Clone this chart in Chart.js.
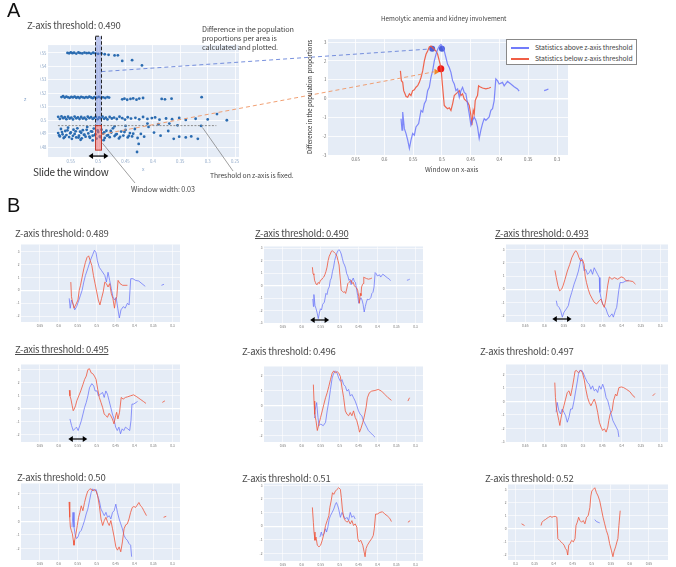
<!DOCTYPE html>
<html><head><meta charset="utf-8">
<script src="https://cdn.jsdelivr.net/npm/chart.js@4.4.1/dist/chart.umd.min.js"></script>
<style>
html,body{margin:0;padding:0;background:#fff;}
body{position:relative;width:676px;height:567px;overflow:hidden;font-family:"Noto Sans CJK JP","Noto Sans",sans-serif;}
.t{position:absolute;white-space:nowrap;line-height:1;color:#333;font-family:"Noto Sans CJK JP","Noto Sans",sans-serif;z-index:7;}
.ttl{font-size:9.5px;letter-spacing:-0.25px;color:#4a4a4a;}
.u{text-decoration:underline;text-underline-offset:1px;}
canvas{position:absolute;}
#ov{left:0;top:0;z-index:5;pointer-events:none;}
.lg{position:absolute;left:506px;top:39px;width:129px;height:24px;border:1px solid #888;background:#fff;z-index:6;}
.lgl{position:absolute;left:4px;width:18px;height:1.5px;}
</style></head><body>

<div class="t" style="left:7px;top:0px;font-size:20px;color:#111;font-family:'Liberation Sans',sans-serif">A</div>
<div class="t" style="left:7px;top:195px;font-size:20px;color:#111;font-family:'Liberation Sans',sans-serif">B</div>

<div class="t ttl" style="left:27px;top:21px">Z-axis threshold: 0.490</div>
<div class="t" style="left:202px;top:25px;font-size:7.3px;letter-spacing:-0.1px;line-height:9px;color:#444">Difference in the population<br>proportions per area is<br>calculated and plotted.</div>
<div class="t" style="left:33px;top:167px;font-size:10px;letter-spacing:-0.3px;color:#333">Slide the window</div>
<div class="t" style="left:131px;top:186px;font-size:7.2px;letter-spacing:-0.1px;color:#444">Window width: 0.03</div>
<div class="t" style="left:210px;top:172px;font-size:6.8px;letter-spacing:-0.1px;color:#444">Threshold on z-axis is fixed.</div>
<div class="t" style="left:24px;top:96px;font-size:5px;color:#7f9fc8">z</div>
<div class="t" style="left:142px;top:166px;font-size:5px;color:#7f9fc8">x</div>

<div class="t" style="left:381px;top:16px;font-size:6.3px;color:#444">Hemolytic anemia and kidney involvement</div>
<div class="t" style="left:425px;top:166px;font-size:6.6px;color:#444">Window on x-axis</div>
<div class="t" style="left:240px;top:94px;width:140px;text-align:center;font-size:6px;color:#222;transform:rotate(-90deg);transform-origin:70px 3px">Difference in the population&nbsp; proportions</div>

<div class="lg">
  <div class="lgl" style="top:7px;background:rgba(99,110,250,0.9)"></div>
  <div class="t" style="left:28px;top:4px;font-size:6.8px;letter-spacing:-0.1px;color:#444">Statistics above z-axis threshold</div>
  <div class="lgl" style="top:18px;background:rgba(239,85,59,0.95)"></div>
  <div class="t" style="left:28px;top:15px;font-size:6.8px;letter-spacing:-0.1px;color:#444">Statistics below z-axis threshold</div>
</div>

<div class="t ttl" style="left:15px;top:229px">Z-axis threshold: 0.489</div>
<div class="t ttl u" style="left:255px;top:229px">Z-axis threshold: 0.490</div>
<div class="t ttl u" style="left:495px;top:229px">Z-axis threshold: 0.493</div>
<div class="t ttl u" style="left:15px;top:345px">Z-axis threshold: 0.495</div>
<div class="t ttl" style="left:242px;top:347px">Z-axis threshold: 0.496</div>
<div class="t ttl" style="left:480px;top:347px">Z-axis threshold: 0.497</div>
<div class="t ttl" style="left:17px;top:473px">Z-axis threshold: 0.50</div>
<div class="t ttl" style="left:242px;top:474px">Z-axis threshold: 0.51</div>
<div class="t ttl" style="left:485px;top:474px">Z-axis threshold: 0.52</div>

<canvas id="ov" width="676" height="567" style="width:676px;height:567px"></canvas>

<script>
// ---------------- DATA ----------------
// Panel A scatter (x, z)
const scatterX = [
0.556,0.553,0.550,0.547,0.544,0.540,0.536,0.533,0.529,0.525,0.521,0.517,0.513,0.509,0.505,0.500,0.494,0.488,0.481,0.470,0.464,0.456,0.438,0.420,
0.567,0.564,0.561,0.558,0.555,0.552,0.549,0.546,0.543,0.540,0.537,0.534,0.531,0.528,0.525,0.522,0.519,0.516,0.513,0.510,0.507,0.503,0.499,0.495,0.491,0.487,0.483,0.480,0.456,0.452,0.447,0.441,0.436,0.430,0.425,0.418,0.384,0.378,0.366,0.311,
0.573,0.570,0.567,0.564,0.561,0.558,0.555,0.552,0.549,0.546,0.543,0.540,0.537,0.534,0.531,0.528,0.525,0.522,0.519,0.516,0.513,0.510,0.507,0.504,0.501,0.498,0.495,0.492,0.489,0.486,0.483,0.479,0.475,0.471,0.466,0.461,0.456,0.451,0.446,0.440,0.432,0.425,0.418,0.410,0.402,0.396,0.388,0.376,0.365,0.352,0.340,0.322,0.300,0.283,0.265,
0.573,0.570,0.568,0.565,0.563,0.560,0.558,0.555,0.553,0.550,0.548,0.545,0.543,0.540,0.538,0.535,0.533,0.530,0.528,0.525,0.523,0.520,0.518,0.515,0.513,0.510,0.508,0.505,0.503,0.500,0.497,0.494,0.491,0.488,0.485,0.482,0.479,0.476,0.473,0.470,0.466,0.462,0.458,0.454,0.450,0.446,0.442,0.438,0.433,0.428,0.422,0.416,0.408,0.398,0.386,0.372,0.362,0.352,0.340,0.330,0.318,
0.532,0.510,0.490,0.426,0.429,0.470,0.450,0.410,0.390,0.370,0.355,0.312,
0.571,0.566,0.561,0.556,0.551,0.546,0.541,0.536,0.531,0.526,0.521,0.516,0.511,0.506,0.501,0.496,0.489,0.484,0.477,0.468,0.460,0.452,0.444,0.436];
const scatterZ = [
0.5500,0.5497,0.5504,0.5498,0.5501,0.5495,0.5503,0.5499,0.5496,0.5502,0.5498,0.5500,0.5494,0.5501,0.5497,0.5493,0.5496,0.5490,0.5486,0.5481,0.5482,0.5440,0.5446,0.5407,
0.5172,0.5178,0.5168,0.5175,0.5170,0.5166,0.5173,0.5169,0.5176,0.5167,0.5171,0.5165,0.5174,0.5170,0.5166,0.5172,0.5168,0.5175,0.5169,0.5164,0.5171,0.5167,0.5173,0.5166,0.5170,0.5165,0.5172,0.5168,0.5155,0.5160,0.5152,0.5158,0.5162,0.5153,0.5161,0.5165,0.5158,0.5155,0.5160,0.5171,
0.5025,0.5010,0.5028,0.5015,0.5022,0.5008,0.5026,0.5013,0.5020,0.5006,0.5027,0.5014,0.5021,0.5009,0.5024,0.5012,0.5019,0.5007,0.5026,0.5016,0.5023,0.5010,0.5018,0.5025,0.5008,0.5021,0.5014,0.5027,0.5011,0.5019,0.5006,0.5024,0.5013,0.5020,0.5009,0.5026,0.5015,0.5005,0.5022,0.5012,0.5018,0.5007,0.5024,0.5010,0.5016,0.5021,0.5004,0.5013,0.5008,0.5017,0.5002,0.5011,0.5006,0.5046,0.5000,
0.4905,0.4880,0.4935,0.4895,0.4868,0.4920,0.4890,0.4945,0.4875,0.4910,0.4862,0.4930,0.4898,0.4872,0.4940,0.4885,0.4915,0.4866,0.4926,0.4893,0.4878,0.4950,0.4902,0.4870,0.4918,0.4885,0.4938,0.4896,0.4864,0.4912,0.4880,0.4930,0.4900,0.4868,0.4922,0.4890,0.4874,0.4908,0.4940,0.4882,0.4897,0.4865,0.4916,0.4886,0.4928,0.4872,0.4905,0.4880,0.4935,0.4868,0.4898,0.4878,0.4950,0.4908,0.4885,0.4920,0.4862,0.4878,0.4872,0.4880,0.4862,
0.4855,0.4850,0.4852,0.4824,0.4764,0.4955,0.4958,0.4975,0.4970,0.4975,0.4962,0.4958,
0.4888,0.4912,0.4876,0.4925,0.4903,0.4884,0.4918,0.4871,0.4907,0.4892,0.4929,0.4879,0.4915,0.4890,0.4924,0.4874,0.4910,0.4886,0.4920,0.4893,0.4877,0.4912,0.4884,0.4900];

// Tick labels
const scatterXTicks = [0.55,0.5,0.45,0.4,0.35,0.3,0.25];
const scatterZTicks = [0.48,0.49,0.5,0.51,0.52,0.53,0.54,0.55];
const windowXTicks = [0.65,0.6,0.55,0.5,0.45,0.4,0.35,0.3];
const diffTicks = [-3,-2,-1,0,1,2,3];

// Series: [window centre on x-axis, difference in population proportions]; null = gap
const above490 = [[0.5711,-1.07],[0.5694,-1.68],[0.5682,-0.72],[0.5653,-1.6],[0.5624,-1.86],[0.5595,-2.21],[0.5566,-2.65],[0.5538,-2.21],[0.5509,-1.86],[0.548,-1.95],[0.5451,-1.51],[0.5405,-1.33],[0.5364,-0.63],[0.5335,-0.72],[0.5306,-0.28],[0.5277,-0.11],[0.5249,0.42],[0.522,0.6],[0.5191,1.12],[0.5162,1.47],[0.5133,2.0],[0.5104,2.35],[0.5075,2.61],[0.5046,2.79],[0.5017,2.88],[0.4988,2.74],[0.496,2.53],[0.4931,2.18],[0.4902,1.82],[0.4873,1.65],[0.4844,1.39],[0.4815,0.95],[0.4786,0.77],[0.4757,0.42],[0.4728,0.51],[0.4699,0.07],[0.467,0.42],[0.4642,0.6],[0.4613,0.33],[0.4584,0.25],[0.4555,-0.28],[0.4526,-0.81],[0.4497,-1.42],[0.4468,-1.16],[0.4439,-0.98],[0.441,-1.16],[0.4382,-1.51],[0.4353,-2.12],[0.4324,-1.68],[0.4295,-1.33],[0.4266,-1.07],[0.4237,-1.16],[0.4179,-0.98],[0.415,-0.63],[0.4121,-0.54],[0.4093,-0.11],[0.4064,1.04],[0.4035,0.95],[0.4006,0.77],[0.3948,0.86],[0.3919,0.68],[0.3861,0.91],[0.3803,0.77],[0.3746,0.63],[0.3688,0.51],[0.3659,0.39],[0.344,null],[0.3225,0.42],[0.3185,0.46],[0.315,0.51]];
const below490 = [[0.5722,1.47],[0.5705,0.95],[0.5682,0.86],[0.5665,0.42],[0.5642,0.25],[0.5624,0.11],[0.5595,0.07],[0.5566,0.25],[0.5538,0.16],[0.5509,0.42],[0.548,0.46],[0.5451,0.6],[0.5422,0.68],[0.5393,0.86],[0.5364,1.12],[0.5335,1.47],[0.5306,2.0],[0.5277,2.35],[0.5249,2.53],[0.522,2.74],[0.5191,2.79],[0.5162,2.7],[0.5133,2.61],[0.5104,2.53],[0.5075,2.35],[0.5046,2.0],[0.5017,1.65],[0.4988,0.6],[0.496,-0.37],[0.4931,-0.46],[0.4902,-0.54],[0.4873,-0.49],[0.4844,-0.63],[0.4815,-0.28],[0.4786,0.16],[0.4757,0.25],[0.4728,0.33],[0.4699,0.42],[0.467,0.16],[0.4642,0.25],[0.4613,-0.02],[0.4584,-0.11],[0.4555,-0.19],[0.4526,-0.37],[0.4497,-0.89],[0.448,-1.42],[0.4457,-0.63],[0.4439,-0.81],[0.4422,-0.11],[0.4399,0.07],[0.4382,0.16],[0.4364,0.68],[0.4341,0.63],[0.4295,0.56],[0.4237,0.51],[0.4179,0.56],[0.415,0.6]];
const markAbove490 = [[0.517,2.65],[0.5,2.65]];
const markBelow490 = [[0.502,1.58]];
const markWindow490 = [[0.51,1.42]];

const above489 = [[0.5727,-0.63],[0.570,-1.4],[0.5667,-0.76],[0.5616,-1.14],[0.5581,-1.52],[0.553,-1.27],[0.547,-0.76],[0.5428,-0.38],[0.5385,0],[0.5342,0.63],[0.5299,1.14],[0.5239,1.65],[0.5171,2.28],[0.5103,2.78],[0.506,3.09],[0.5017,2.9],[0.4983,2.28],[0.4932,1.77],[0.4872,1.52],[0.4786,1.14],[0.4744,0.63],[0.4701,1.39],[0.4658,0.76],[0.4615,0.13],[0.4573,-0.5],[0.453,-0.76],[0.4487,-0.56],[0.4444,-1.39],[0.4402,-2.15],[0.4359,-1.52],[0.4299,-1.27],[0.4248,-1.39],[0.4188,-1.0],[0.4145,-1.14],[0.4102,0.89],[0.4042,0.89],[0.3974,0.76],[0.3889,0.71],[0.3803,0.5],[0.3718,0.3],[0.35,null],[0.329,0.38],[0.3222,0.46]];
const below489 = [[0.5684,0.63],[0.5667,-0.5],[0.5641,-0.89],[0.5599,-1.39],[0.5556,-1.14],[0.5496,-0.76],[0.5462,0],[0.5428,0.38],[0.5385,1.01],[0.5342,1.65],[0.5299,2.15],[0.5257,2.53],[0.5214,2.66],[0.5171,2.28],[0.5128,1.9],[0.5086,1.14],[0.5043,0.51],[0.5,-0.13],[0.4957,-0.76],[0.4915,-1.14],[0.4872,-0.63],[0.4829,-0.13],[0.4786,0.63],[0.4744,0.51],[0.4701,0.25],[0.4658,0.51],[0.4615,-0.25],[0.4573,-0.63],[0.453,-1.39],[0.4504,-0.76],[0.447,-0.5],[0.4436,0.76],[0.4384,0.51],[0.4316,0.38],[0.4188,0.38]];

const above493 = [[0.5696,-0.88],[0.567,-1.25],[0.5626,-1.38],[0.5583,-1.63],[0.5539,-2.13],[0.5496,-1.75],[0.5435,-1.5],[0.5383,-1.25],[0.5348,-0.75],[0.5296,-0.25],[0.5235,0.38],[0.5174,0.88],[0.5122,1.38],[0.5087,1.88],[0.5052,2.38],[0.5017,2.13],[0.4974,1.38],[0.493,1.5],[0.4887,1.13],[0.4843,1.25],[0.48,1.5],[0.4756,1.13],[0.4713,1.63],[0.4669,1.38],[0.4626,1.13],[0.4582,0.88],[0.4565,-0.25],[0.4539,-0.63],[0.4495,-1.13],[0.4408,-1.5],[0.4365,-1.88],[0.4321,-2.13],[0.4252,-1.88],[0.4217,-2.13],[0.4165,-1.63],[0.413,-1.38],[0.4078,-0.13],[0.4043,0.5],[0.3973,0.5],[0.3886,0.63],[0.3817,0.68]];
const below493 = [[0.5731,1.43],[0.5696,0.88],[0.5653,0.25],[0.5609,-0.13],[0.5557,0],[0.5522,0.25],[0.547,0.75],[0.5409,1.38],[0.5348,1.88],[0.5296,2.38],[0.5235,2.75],[0.5191,2.93],[0.5148,2.75],[0.5104,2.38],[0.5061,2.13],[0.5017,2.25],[0.4974,1.88],[0.4948,1.0],[0.4913,0.5],[0.4869,0],[0.4826,-0.38],[0.4774,-0.68],[0.4713,-1.0],[0.4652,-1.13],[0.4582,-0.88],[0.4539,-0.75],[0.4495,-1.13],[0.4452,-1.38],[0.4408,-0.75],[0.4365,0.25],[0.4321,0.93],[0.4252,0.75],[0.4191,0.88],[0.4104,0.75],[0.4017,0.93],[0.3956,0.88],[0.3886,0.63],[0.3799,0.63],[0.3712,0.58],[0.3643,0.38]];

const above495 = [[0.5707,-0.81],[0.5664,-1.32],[0.5621,-1.7],[0.5578,-1.57],[0.5534,-1.44],[0.5491,-1.7],[0.5448,-1.32],[0.5405,-0.94],[0.5362,-0.43],[0.5319,0.08],[0.5276,0.46],[0.5233,0.96],[0.519,1.59],[0.5129,1.9],[0.5078,1.72],[0.5043,1.34],[0.4991,1.34],[0.4957,0.96],[0.4905,1.09],[0.4845,1.22],[0.4802,0.84],[0.4759,1.34],[0.4716,1.09],[0.4672,0.58],[0.4629,0.08],[0.4586,-0.43],[0.4543,-0.81],[0.45,-1.44],[0.4457,-1.7],[0.4414,-1.44],[0.4371,-1.95],[0.4328,-1.57],[0.4285,-1.7],[0.4241,-1.44],[0.4181,-1.57],[0.4129,-1.7],[0.4095,-0.94],[0.4069,0.33],[0.4026,0.33],[0.3957,0.46],[0.3922,0.53]];
const below495 = [[0.5724,1.39],[0.5707,0.96],[0.5681,0.71],[0.5647,0.2],[0.5621,-0.18],[0.5595,-0.05],[0.556,0.2],[0.5526,0.58],[0.5474,0.96],[0.5422,1.34],[0.5362,1.85],[0.5319,2.23],[0.5276,2.48],[0.5233,2.99],[0.519,3.04],[0.5147,2.73],[0.5103,2.66],[0.506,2.48],[0.5017,2.23],[0.4974,1.47],[0.4931,0.84],[0.4888,0.46],[0.4845,0.08],[0.4802,-0.43],[0.4759,-0.56],[0.4716,-0.68],[0.4672,-0.38],[0.4629,-0.56],[0.4586,-0.81],[0.4543,-1.19],[0.45,-0.56],[0.4474,-0.3],[0.444,-0.81],[0.4397,-0.3],[0.4353,0.84],[0.4302,0.71],[0.4241,0.84],[0.4181,0.89],[0.4112,0.96],[0.4026,1.04],[0.394,0.89],[0.3854,0.71],[0.3767,0.53],[0.3698,0.38],[0.345,null],[0.3267,0.46],[0.3198,0.58]];

const above496 = [[0.5679,-0.78],[0.5653,-0.35],[0.5609,0.2],[0.5574,-0.78],[0.5548,-1.33],[0.5505,-1.22],[0.5435,-1.33],[0.5374,-1.11],[0.5331,-0.35],[0.5287,0.3],[0.5244,1.07],[0.52,1.83],[0.5157,2.15],[0.5113,2.3],[0.507,2.15],[0.5026,1.83],[0.4983,1.61],[0.4939,1.72],[0.4896,1.39],[0.4852,1.28],[0.4809,0.96],[0.4765,1.07],[0.4722,0.63],[0.4678,0.74],[0.4635,0.52],[0.4591,0.3],[0.4548,0],[0.4504,-0.35],[0.4461,-0.57],[0.4417,-0.67],[0.4374,-1.0],[0.433,-1.22],[0.4287,-1.43],[0.4243,-1.65],[0.42,-1.76],[0.4156,-1.87],[0.4113,-1.98],[0.4069,-2.09]];
const below496 = [[0.5696,1.39],[0.5679,0.3],[0.5661,-0.57],[0.5626,-1.0],[0.5592,-1.65],[0.5548,-1.22],[0.5505,-0.78],[0.5461,-0.35],[0.5418,0.09],[0.5374,0.52],[0.5331,0.85],[0.5287,1.28],[0.5244,1.72],[0.52,2.15],[0.5157,2.3],[0.5113,2.15],[0.507,2.26],[0.5026,2.15],[0.4983,1.93],[0.4939,1.17],[0.4896,0.52],[0.4852,-0.35],[0.4809,-0.57],[0.4765,-0.67],[0.4722,-0.46],[0.4678,-0.67],[0.4635,-0.35],[0.4591,-0.78],[0.4548,-1.0],[0.4504,-1.43],[0.4478,-1.76],[0.4443,-1.54],[0.4391,-1.11],[0.4356,-0.78],[0.4304,-0.13],[0.4269,0.52],[0.4217,0.85],[0.4156,0.96],[0.4069,1.0],[0.3982,1.07],[0.3895,0.96],[0.3808,0.74],[0.3721,0.52],[0.3634,0.35],[0.34,null],[0.3199,0.3],[0.3156,0.52]];

const above497 = [[0.57,-0.8],[0.5674,-0.07],[0.563,-0.68],[0.5586,-0.93],[0.5543,-0.56],[0.5499,-0.8],[0.5455,-1.05],[0.5411,-1.54],[0.5368,-1.17],[0.5324,-0.56],[0.528,-0.56],[0.5236,0.05],[0.5193,0.78],[0.5149,1.51],[0.5123,2.0],[0.5088,2.29],[0.5035,2.29],[0.5,2.12],[0.4948,1.76],[0.4886,1.39],[0.4843,1.27],[0.4799,0.9],[0.4755,1.15],[0.4711,0.78],[0.4668,0.9],[0.4624,0.66],[0.458,1.15],[0.4536,0.9],[0.4493,1.27],[0.4449,0.9],[0.4405,0.29],[0.4361,0.05],[0.4318,-0.44],[0.4274,-0.93],[0.423,-1.41],[0.4186,-1.66],[0.4143,-1.9],[0.4099,-2.15],[0.4073,-2.63]];
const below497 = [[0.5735,1.39],[0.5718,0.29],[0.5691,-0.56],[0.5665,-0.93],[0.563,-1.41],[0.5604,-1.78],[0.5578,-1.29],[0.5543,-0.8],[0.5499,-0.32],[0.5455,0.17],[0.5411,0.66],[0.5368,0.78],[0.5324,0.41],[0.528,1.02],[0.5236,1.76],[0.521,2.24],[0.5175,2.29],[0.5123,2.12],[0.5061,2.29],[0.5018,2.12],[0.4974,1.63],[0.493,0.9],[0.4886,0.29],[0.4843,-0.07],[0.4799,-0.32],[0.4755,-0.07],[0.4711,0.17],[0.4668,-0.2],[0.4624,-0.8],[0.458,-1.54],[0.4536,-1.9],[0.4493,-2.15],[0.4449,-2.02],[0.4405,-2.27],[0.4361,-1.9],[0.4335,-1.41],[0.43,-0.93],[0.4248,-0.68],[0.4213,0.05],[0.416,0.54],[0.4125,0.41],[0.4073,1.02],[0.4011,1.07],[0.395,1.02],[0.388,0.9],[0.3793,0.73],[0.3705,0.41],[0.3653,0.29],[0.34,null],[0.3198,0.41],[0.3136,0.59]];

const above500 = [[0.5653,-0.43],[0.5626,0.65],[0.56,-0.43],[0.5566,-1.03],[0.5531,-1.27],[0.5496,-1.15],[0.5452,-0.79],[0.5409,-0.67],[0.5365,-0.31],[0.5322,0.05],[0.5278,0.53],[0.5235,0.89],[0.5191,1.49],[0.5148,2.09],[0.5104,2.37],[0.5061,2.21],[0.5017,2.33],[0.4974,1.85],[0.493,1.49],[0.4887,0.89],[0.4843,0.65],[0.48,0.41],[0.4756,0.65],[0.4713,0.29],[0.4669,0.41],[0.4626,0.17],[0.4582,0.65],[0.4539,0.77],[0.4495,1.25],[0.4452,0.65],[0.4408,0.17],[0.4365,-0.19],[0.4321,-0.55],[0.4278,-1.03],[0.4234,-1.27],[0.4191,-1.39],[0.4147,-1.63],[0.4104,-1.75],[0.4078,-2.59]];
const below500 = [[0.5731,1.41],[0.5713,0.29],[0.5696,-0.43],[0.567,-0.67],[0.5644,-0.91],[0.5618,-1.39],[0.56,-1.75],[0.5583,-1.39],[0.5548,-0.91],[0.5513,-0.31],[0.5479,0.29],[0.5444,0.65],[0.5409,1.13],[0.5365,0.77],[0.5322,1.37],[0.5278,1.85],[0.5235,2.21],[0.5191,2.33],[0.5148,2.37],[0.5104,2.21],[0.5061,2.33],[0.5017,2.21],[0.4974,1.85],[0.493,1.13],[0.4887,0.17],[0.4843,-0.31],[0.48,0.05],[0.4756,0.29],[0.4713,-0.07],[0.4669,-0.31],[0.4626,0.05],[0.4582,-0.55],[0.4539,-1.15],[0.4495,-1.87],[0.4452,-2.11],[0.4408,-1.87],[0.4365,-2.23],[0.4321,-1.51],[0.4278,-0.55],[0.4234,-0.26],[0.4191,-0.19],[0.4147,0.17],[0.4104,0.65],[0.406,1.01],[0.4017,1.08],[0.3973,1.01],[0.393,1.18],[0.3886,1.37],[0.3843,1.13],[0.3799,1.01],[0.3756,0.77],[0.3686,0.41],[0.345,null],[0.3234,0.29],[0.3164,0.36]];

const above510 = [[0.5522,-0.8],[0.5487,-0.43],[0.5461,-0.68],[0.5418,-0.56],[0.5374,-0.19],[0.5348,-0.43],[0.5313,-0.07],[0.5278,0.53],[0.5244,0.77],[0.52,1.01],[0.5157,1.26],[0.5113,1.62],[0.5087,1.74],[0.5052,1.5],[0.5026,1.26],[0.4983,0.65],[0.4939,1.01],[0.4896,0.77],[0.4852,0.53],[0.4809,0.65],[0.4765,0.41],[0.4722,1.01],[0.4678,0.65],[0.4635,0.77],[0.4591,0.53]];
const below510 = [[0.5722,1.38],[0.5696,0.29],[0.5679,-0.43],[0.5653,-1.04],[0.5626,-0.8],[0.5592,-1.4],[0.5548,-1.52],[0.5505,-1.4],[0.5461,-1.04],[0.5418,-0.56],[0.5374,0.05],[0.5331,0.41],[0.5287,0.77],[0.5261,1.38],[0.5226,1.86],[0.5191,2.46],[0.5157,2.34],[0.5113,2.58],[0.507,2.71],[0.5026,2.83],[0.4983,2.71],[0.4957,2.1],[0.493,1.26],[0.4896,0.65],[0.4852,0.41],[0.4809,0.29],[0.4765,0.41],[0.4722,0.17],[0.4678,0.41],[0.4635,0.05],[0.4591,0.17],[0.4548,-0.07],[0.4521,-0.92],[0.4487,-1.16],[0.4443,-1.04],[0.4391,-1.4],[0.4356,-1.88],[0.433,-2.25],[0.4304,-1.64],[0.4269,-1.4],[0.4217,-1.16],[0.4156,-0.92],[0.4113,-0.68],[0.4087,-0.19],[0.4052,0.89],[0.4008,0.89],[0.3939,1.01],[0.3869,1.06],[0.3808,0.89],[0.3747,0.77],[0.3678,0.58],[0.3634,0.34],[0.34,null],[0.3199,0.29],[0.3138,0.41]];

const above520 = [[0.5078,0.7],[0.5122,0.55],[0.5165,0.5],[0.5208,0.45]];
const below520 = [[0.3156,0.38],[0.3234,0.25],[0.345,null],[0.3667,0.25],[0.3693,0.5],[0.3736,0.63],[0.3779,0.7],[0.3823,0.8],[0.3866,0.88],[0.3909,0.95],[0.3953,0.88],[0.3996,0.93],[0.4039,0.95],[0.4083,0.88],[0.4108,-0.75],[0.4152,-0.88],[0.4195,-1.0],[0.4238,-1.13],[0.4273,-1.25],[0.4308,-1.5],[0.4342,-1.63],[0.4368,-2.0],[0.4394,-1.25],[0.4429,-1.13],[0.4472,-0.88],[0.4516,-1.0],[0.4559,-0.75],[0.4585,0.25],[0.4619,0.5],[0.4654,0.88],[0.4689,0.63],[0.4732,0.5],[0.4775,0.63],[0.4819,0.38],[0.4862,0.88],[0.4905,1.0],[0.4949,1.63],[0.4975,2.5],[0.5,2.88],[0.5035,3.0],[0.5078,3.13],[0.5122,2.75],[0.5165,2.5],[0.5208,2.13],[0.5252,1.5],[0.5295,0.88],[0.5338,0.38],[0.5382,-0.13],[0.5425,-0.5],[0.5468,-1.13],[0.5512,-1.63],[0.5555,-2.13],[0.5581,-1.75],[0.5624,-1.38],[0.5659,-1.0],[0.5685,-0.75],[0.5711,0.25],[0.5745,1.38]];

// ---------------- RENDER ----------------
const BLUE = 'rgba(99,110,250,0.8)';
const RED = 'rgba(239,85,59,0.9)';
const FONT = "'Noto Sans CJK JP','Noto Sans',sans-serif";
Chart.defaults.font.family = FONT;

Chart.register({
  id: 'plotbg',
  beforeDraw(c) {
    const a = c.chartArea, ctx = c.ctx;
    ctx.save(); ctx.fillStyle = '#E5ECF6';
    ctx.fillRect(a.left, a.top, a.right - a.left, a.bottom - a.top);
    ctx.restore();
  }
});

const pts = arr => arr.map(p => ({x: p[0], y: p[1]}));
const fmt = v => String(Math.round(v * 1000) / 1000);

function lineDs(arr, color, w) {
  return {data: pts(arr), showLine: true, borderColor: color, borderWidth: w, pointRadius: 0, spanGaps: false, tension: 0};
}

function makeChart(rect, yW, xH, datasets, xo, yo) {
  const [x0, y0, x1, y1] = rect;
  const padT = 2, padR = 2;
  const cv = document.createElement('canvas');
  const w = x1 - x0 + yW + padR, h = y1 - y0 + padT + xH;
  cv.width = w; cv.height = h;
  cv.style.left = (x0 - yW) + 'px'; cv.style.top = (y0 - padT) + 'px';
  cv.style.width = w + 'px'; cv.style.height = h + 'px';
  document.body.appendChild(cv);
  const ch = new Chart(cv, {
    type: 'scatter',
    data: {datasets},
    options: {
      responsive: false, animation: false, devicePixelRatio: 1,
      layout: {padding: {left: 0, right: padR, top: padT, bottom: 0}},
      plugins: {legend: {display: false}, tooltip: {enabled: false}},
      scales: {
        x: Object.assign({type: 'linear', afterFit(s) { s.height = xH; }}, xo),
        y: Object.assign({type: 'linear', afterFit(s) { s.width = yW; }}, yo)
      }
    }
  });
  ch.$ox = x0 - yW; ch.$oy = y0 - padT;
  return ch;
}

function axis(min, max, ticks, reverse, fs, color, gridW) {
  return {
    min, max, reverse,
    afterBuildTicks(s) { s.ticks = ticks.map(v => ({value: v})); },
    ticks: {font: {size: fs, family: FONT}, color, padding: 1.5, autoSkip: false, maxRotation: 0, callback: v => fmt(v)},
    grid: {color: '#ffffff', lineWidth: c => (c.tick && c.tick.value === 0 ? gridW * 2 : gridW), drawTicks: false},
    border: {display: false}
  };
}

// Panel A scatter
const scatter = makeChart([48, 43, 241, 157], 8, 8,
  [{data: scatterX.map((x, i) => ({x, y: scatterZ[i]})), pointRadius: 1.4, pointBackgroundColor: '#2a6bb0', pointBorderWidth: 0}],
  axis(0.2428, 0.5916, scatterXTicks, true, 4.3, '#8fa8c8', 0.8),
  axis(0.4727, 0.5558, scatterZTicks, false, 4.3, '#8fa8c8', 0.8));

// Panel A line chart
const big = makeChart([328, 37, 570, 155], 6, 8, [
  lineDs(above490, BLUE, 1.2),
  lineDs(below490, RED, 1.2),
  {data: pts(markAbove490), pointRadius: 3, pointBackgroundColor: '#4a5fd8', pointBorderWidth: 0},
  {data: pts(markBelow490), pointRadius: 3.5, pointBackgroundColor: '#f01818', pointBorderWidth: 0},
  {data: pts(markWindow490), pointStyle: 'triangle', rotation: 90, pointRadius: 3.5, pointBackgroundColor: '#f08a2a', pointBorderWidth: 0}
], axis(0.281, 0.698, windowXTicks, true, 4.3, '#666', 0.8),
   axis(-3, 3.16, diffTicks, false, 4.3, '#666', 0.8));

// Panel B small multiples
const small = [
  {r: [21, 243, 180, 322], a: above489, b: below489, y: [-2.46, 3.54]},
  {r: [264, 245, 423, 323], a: above490, b: below490, y: [-3, 3.13], arrow: 0.553},
  {r: [506, 243, 668, 322], a: above493, b: below493, y: [-2.5, 3.4], arrow: 0.555},
  {r: [21, 363, 180, 442], a: above495, b: below495, y: [-2.58, 3.37], arrow: 0.55},
  {r: [264, 365, 423, 442], a: above496, b: below496, y: [-2.41, 2.59]},
  {r: [506, 363, 668, 442], a: above497, b: below497, y: [-3, 2.73]},
  {r: [21, 482, 180, 560], a: above500, b: below500, y: [-2.83, 2.76]},
  {r: [264, 482, 423, 561], a: above510, b: below510, y: [-2.56, 3.14]},
  {r: [508, 483, 668, 560], a: above520, b: below520, y: [-2.38, 3.38], normal: true}
];
const smallCharts = small.map(s => {
  const yt = diffTicks.filter(v => v >= s.y[0] && v <= s.y[1]);
  const xt = s.normal ? windowXTicks.slice().reverse() : windowXTicks;
  return makeChart(s.r, 5, 6, [lineDs(s.b, RED, 0.9), lineDs(s.a, BLUE, 0.9)],
    axis(0.28, 0.70, xt, !s.normal, 3.3, '#777', 0.6),
    axis(s.y[0], s.y[1], yt, false, 3.3, '#777', 0.6));
});

// ---------------- ANNOTATIONS ----------------
const windowX = [0.5048, 0.4939];
const windowZ = [0.5624, 0.4960, 0.4778];
const thresholdLineX = [0.5735, 0.2842];
const slideArrow = [0.5175, 0.4813, 0.4734];

const ov = document.getElementById('ov');
const ctx = ov.getContext('2d');
function P(ch, x, y) { return [ch.$ox + ch.scales.x.getPixelForValue(x), ch.$oy + ch.scales.y.getPixelForValue(y)]; }
function dArrow(xa, xb, y) {
  const a = Math.min(xa, xb), b = Math.max(xa, xb);
  ctx.save(); ctx.strokeStyle = '#000'; ctx.fillStyle = '#000'; ctx.lineWidth = 1.2; ctx.setLineDash([]);
  ctx.beginPath(); ctx.moveTo(a + 3, y); ctx.lineTo(b - 3, y); ctx.stroke();
  ctx.beginPath(); ctx.moveTo(a, y); ctx.lineTo(a + 4.5, y - 3); ctx.lineTo(a + 4.5, y + 3); ctx.closePath(); ctx.fill();
  ctx.beginPath(); ctx.moveTo(b, y); ctx.lineTo(b - 4.5, y - 3); ctx.lineTo(b - 4.5, y + 3); ctx.closePath(); ctx.fill();
  ctx.restore();
}
function seg(p, q, color, w, dash) {
  ctx.save(); ctx.strokeStyle = color; ctx.lineWidth = w; ctx.setLineDash(dash || []);
  ctx.beginPath(); ctx.moveTo(p[0], p[1]); ctx.lineTo(q[0], q[1]); ctx.stroke(); ctx.restore();
}

seg(P(scatter, thresholdLineX[0], windowZ[1]), P(scatter, thresholdLineX[1], windowZ[1]), '#8a8a8a', 1, [2, 1.5]);

(function () {
  const tl = P(scatter, windowX[0], windowZ[0]), mr = P(scatter, windowX[1], windowZ[1]), br = P(scatter, windowX[1], windowZ[2]);
  ctx.save();
  ctx.fillStyle = 'rgba(110,130,215,0.45)';
  ctx.fillRect(tl[0], tl[1], mr[0] - tl[0], mr[1] - tl[1]);
  ctx.setLineDash([3.5, 2]); ctx.strokeStyle = '#222'; ctx.lineWidth = 1;
  ctx.strokeRect(tl[0], tl[1], mr[0] - tl[0], mr[1] - tl[1]);
  ctx.setLineDash([]);
  ctx.fillStyle = 'rgba(240,110,110,0.55)';
  ctx.fillRect(tl[0], mr[1], br[0] - tl[0], br[1] - mr[1]);
  ctx.strokeStyle = '#c0392b';
  ctx.strokeRect(tl[0], mr[1], br[0] - tl[0], br[1] - mr[1]);
  ctx.restore();
})();

seg(P(scatter, windowX[1], 0.5361), P(big, 0.5224, 2.63), 'rgba(95,125,215,0.85)', 1, [4, 3]);
seg(P(scatter, windowX[1], 0.4895), P(big, 0.5138, 1.42), 'rgba(240,150,100,0.9)', 1, [4, 3]);

(function () {
  const p = P(scatter, slideArrow[0], slideArrow[2]), q = P(scatter, slideArrow[1], slideArrow[2]);
  dArrow(p[0], q[0], p[1]);
})();

seg(P(scatter, 0.4921, 0.4829), [135, 183], '#777', 0.7);
seg(P(scatter, 0.3095, 0.4946), [233, 171], '#777', 0.7);

small.forEach((s, i) => {
  if (s.arrow === undefined) return;
  const ch = smallCharts[i];
  const p = P(ch, s.arrow + 0.025, s.y[0]), q = P(ch, s.arrow - 0.025, s.y[0]);
  dArrow(p[0], q[0], p[1] - 3);
});
</script>
</body></html>
